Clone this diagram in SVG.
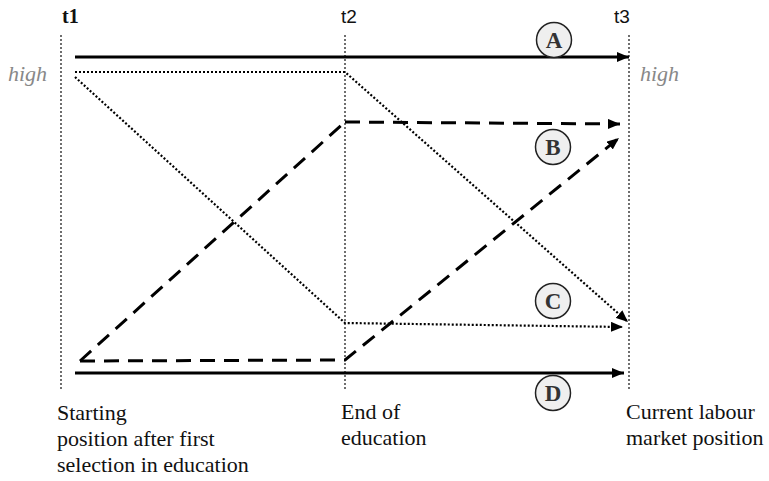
<svg xmlns="http://www.w3.org/2000/svg" width="769" height="481" viewBox="0 0 769 481">
<style>
.axis{stroke:#222;stroke-width:1.3;stroke-dasharray:2 2;fill:none}
.solid{stroke:#000;stroke-width:3;fill:none}
.dash{stroke:#000;stroke-width:3;stroke-dasharray:15 9;fill:none}
.dot{stroke:#000;stroke-width:2.2;stroke-dasharray:2 2;fill:none}
.lbl{font-family:"Liberation Serif",serif;font-size:22px;fill:#111}
.tl{font-family:"Liberation Sans",sans-serif;font-size:19px;fill:#111}
.hi{font-family:"Liberation Serif",serif;font-style:italic;font-size:22px;fill:#888}
.circ{fill:#efefef;stroke:#222;stroke-width:1.5}
.let{font-family:"Liberation Serif",serif;font-weight:bold;font-size:23px;fill:#333;text-anchor:middle}
</style>
<defs>
<marker id="ah" viewBox="0 0 12 10" refX="12" refY="5" markerWidth="12" markerHeight="10" markerUnits="userSpaceOnUse" orient="auto">
<path d="M0,0 L12,5 L0,10 Z" fill="#000"/>
</marker>
</defs>
<g id="axes">
<line class="axis" x1="61" y1="35" x2="61" y2="390"/>
<line class="axis" x1="345" y1="35" x2="345" y2="390"/>
<line class="axis" x1="629" y1="35" x2="629" y2="390"/>
<text x="62" y="23" style="font-family:'Liberation Serif',serif;font-weight:bold;font-size:20px" fill="#111">t1</text>
<text class="tl" x="341" y="23">t2</text>
<text class="tl" x="614" y="23">t3</text>
<text class="hi" x="8" y="81">high</text>
<text class="hi" x="640" y="81">high</text>
</g>
<g id="connectors">
<line class="solid" x1="75" y1="57" x2="629" y2="57" marker-end="url(#ah)"/>
<polyline class="dot" points="75,72 345,72 628,322" marker-end="url(#ah)"/>
<polyline class="dot" points="75,77 345,323 623,327" marker-end="url(#ah)"/>
<polyline class="dash" points="345,122 620,124" marker-end="url(#ah)"/>
<polyline class="dash" points="80,361 345,122"/>
<polyline class="dash" points="80,361 345,360 619,138" marker-end="url(#ah)"/>
<line class="solid" x1="75" y1="373" x2="624" y2="373" marker-end="url(#ah)"/>
</g>
<g id="A"><circle class="circ" cx="554" cy="40" r="17.5"/><text class="let" x="554" y="48">A</text></g>
<g id="B"><circle class="circ" cx="553" cy="147" r="17.5"/><text class="let" x="553" y="155">B</text></g>
<g id="C"><circle class="circ" cx="553" cy="301" r="17.5"/><text class="let" x="553" y="309">C</text></g>
<g id="D"><circle class="circ" cx="553" cy="393" r="17.5"/><text class="let" x="553" y="401">D</text></g>
<g id="labels">
<text class="lbl" x="57" y="420">Starting</text>
<text class="lbl" x="57" y="446">position after first</text>
<text class="lbl" x="57" y="472">selection in education</text>
<text class="lbl" x="341" y="419">End of</text>
<text class="lbl" x="341" y="445">education</text>
<text class="lbl" x="626" y="419">Current labour</text>
<text class="lbl" x="626" y="445">market position</text>
</g>
</svg>
